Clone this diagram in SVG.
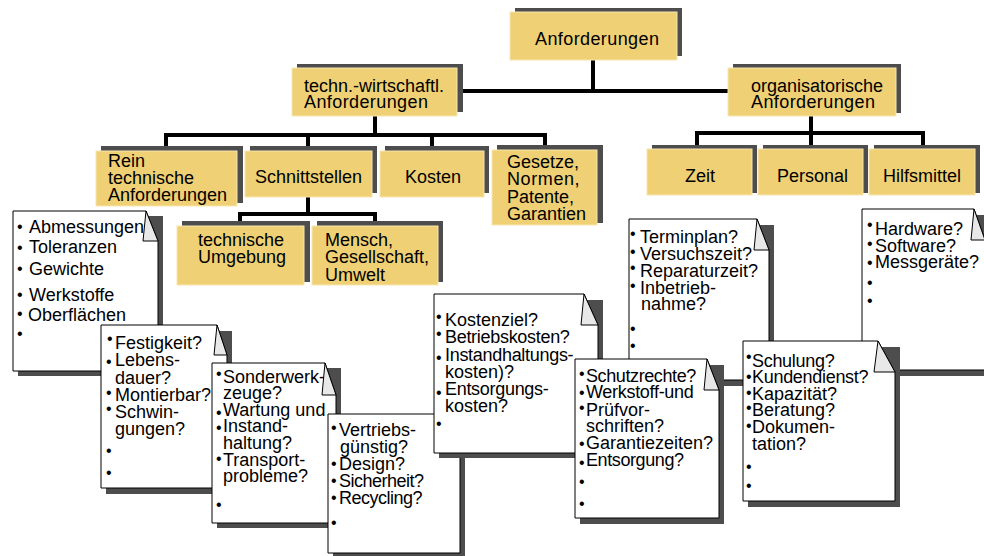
<svg xmlns="http://www.w3.org/2000/svg" width="984" height="556" viewBox="0 0 984 556">
<style>
text{font-family:"Liberation Sans",Arial,sans-serif;font-size:18px;fill:#000}
.bx{fill:#EFD075;stroke:#F7E6B0;stroke-width:1}
.sh{fill:#4d4d4d}
.cn{fill:none;stroke:#000;stroke-width:4;stroke-linejoin:miter}
.pg{fill:#fff;stroke:#000;stroke-width:1}
.fd{fill:#e8e8e8;stroke:#000;stroke-width:1}
.b{font-size:16px}
</style>
<rect width="984" height="556" fill="#fff"/>
<g id="connectors">
<path class="cn" d="M593,60 V91 M457,91 H728"/>
<path class="cn" d="M375,116 V135 M166,150 V135 H545 V150 M308,135 V150 M432,135 V150"/>
<path class="cn" d="M811,116 V133 M697,149 V133 H923 V149 M811,133 V149"/>
<path class="cn" d="M308,197 V214 M240,226 V214 H375 V226"/>
</g>
<g id="n-root"><rect class="sh" x="515" y="8" width="167" height="48"/><rect class="bx" x="510" y="12" width="167" height="48"/><text x="535" y="45" letter-spacing="0.4">Anforderungen</text></g>
<g id="n-tech"><rect class="sh" x="297" y="64" width="166" height="48"/><rect class="bx" x="292" y="68" width="165" height="48"/><text><tspan x="304" y="92">techn.-wirtschaftl.</tspan><tspan x="304" y="108" letter-spacing="0.4">Anforderungen</tspan></text></g>
<g id="n-org"><rect class="sh" x="733" y="64" width="168" height="49"/><rect class="bx" x="728" y="68" width="168" height="48"/><text><tspan x="751" y="92">organisatorische</tspan><tspan x="751" y="108" letter-spacing="0.4">Anforderungen</tspan></text></g>
<g id="n-rein"><rect class="sh" x="101" y="146" width="142" height="57"/><rect class="bx" x="96" y="151" width="141" height="55"/><text><tspan x="108" y="167">Rein</tspan><tspan x="108" y="184">technische</tspan><tspan x="108" y="201">Anforderungen</tspan></text></g>
<g id="n-schnitt"><rect class="sh" x="250" y="146" width="127" height="47"/><rect class="bx" x="245" y="151" width="127" height="46"/><text x="255" y="183">Schnittstellen</text></g>
<g id="n-kosten"><rect class="sh" x="385" y="146" width="104" height="47"/><rect class="bx" x="380" y="151" width="104" height="46"/><text x="405" y="183">Kosten</text></g>
<g id="n-gesetze"><rect class="sh" x="497" y="145" width="106" height="78"/><rect class="bx" x="492" y="150" width="105" height="75"/><text><tspan x="507" y="168">Gesetze,</tspan><tspan x="507" y="185" letter-spacing="0.6">Normen,</tspan><tspan x="507" y="203">Patente,</tspan><tspan x="507" y="220">Garantien</tspan></text></g>
<g id="n-zeit"><rect class="sh" x="652" y="145" width="105" height="48"/><rect class="bx" x="647" y="149" width="105" height="46"/><text x="685" y="182">Zeit</text></g>
<g id="n-personal"><rect class="sh" x="763" y="145" width="105" height="48"/><rect class="bx" x="758" y="149" width="105" height="46"/><text x="777" y="182">Personal</text></g>
<g id="n-hilfs"><rect class="sh" x="874" y="145" width="106" height="48"/><rect class="bx" x="869" y="149" width="106" height="46"/><text x="883" y="182">Hilfsmittel</text></g>
<g id="n-techumg"><rect class="sh" x="182" y="221" width="128" height="61"/><rect class="bx" x="177" y="226" width="127" height="59"/><text><tspan x="198" y="246">technische</tspan><tspan x="198" y="263">Umgebung</tspan></text></g>
<g id="n-mensch"><rect class="sh" x="317" y="221" width="126" height="61"/><rect class="bx" x="312" y="226" width="126" height="59"/><text><tspan x="325" y="246">Mensch,</tspan><tspan x="325" y="263">Gesellschaft,</tspan><tspan x="325" y="281">Umwelt</tspan></text></g>

<g id="note-hardware">
<rect class="sh" x="867" y="215" width="123" height="161"/>
<path class="pg" d="M862,209 H974 L985,240 V370 H862 Z"/>
<text><tspan class="b" x="867" y="230">•</tspan><tspan x="875" y="235">Hardware?</tspan><tspan class="b" x="867" y="249">•</tspan><tspan x="875" y="252">Software?</tspan><tspan class="b" x="867" y="268">•</tspan><tspan x="875" y="268">Messgeräte?</tspan><tspan class="b" x="867" y="288">•</tspan><tspan class="b" x="867" y="306">•</tspan></text>
<path class="fd" d="M974,209 L971,240 L985,240 Z"/>
</g>
<g id="note-terminplan">
<rect class="sh" x="634" y="225" width="140" height="161"/>
<path class="pg" d="M629,219 H757 L769,250 V380 H629 Z"/>
<text><tspan class="b" x="630" y="239">•</tspan><tspan x="640" y="243">Terminplan?</tspan><tspan class="b" x="630" y="257">•</tspan><tspan x="640" y="260">Versuchszeit?</tspan><tspan class="b" x="630" y="273">•</tspan><tspan x="640" y="277">Reparaturzeit?</tspan><tspan class="b" x="630" y="291">•</tspan><tspan x="640" y="294">Inbetrieb-</tspan><tspan x="641" y="310">nahme?</tspan><tspan class="b" x="630" y="334">•</tspan><tspan class="b" x="630" y="351">•</tspan></text>
<path class="fd" d="M757,219 L754,250 L769,250 Z"/>
</g>
<g id="note-abmessungen">
<rect class="sh" x="18" y="216" width="145" height="160"/>
<path class="pg" d="M13,211 H146 L158,241 V371 H13 Z"/>
<path class="fd" d="M146,211 L143,241 L158,241 Z"/>
<text><tspan class="b" x="17" y="232">•</tspan><tspan x="29" y="233">Abmessungen</tspan><tspan class="b" x="17" y="253">•</tspan><tspan x="29" y="253">Toleranzen</tspan><tspan class="b" x="17" y="274">•</tspan><tspan x="29" y="275">Gewichte</tspan><tspan class="b" x="17" y="300">•</tspan><tspan x="29" y="301">Werkstoffe</tspan><tspan class="b" x="17" y="319">•</tspan><tspan x="28" y="321">Oberflächen</tspan><tspan class="b" x="17" y="339">•</tspan></text>
</g>
<g id="note-festigkeit">
<rect class="sh" x="106" y="331" width="126" height="163"/>
<path class="pg" d="M101,325 H217 L227,355 V488 H101 Z"/>
<path class="fd" d="M217,325 L214,355 L227,355 Z"/>
<text><tspan class="b" x="107" y="344">•</tspan><tspan x="115" y="349">Festigkeit?</tspan><tspan class="b" x="106" y="367">•</tspan><tspan x="115" y="366">Lebens-</tspan><tspan x="115" y="384">dauer?</tspan><tspan class="b" x="106" y="398">•</tspan><tspan x="115" y="401">Montierbar?</tspan><tspan class="b" x="106" y="414">•</tspan><tspan x="115" y="418">Schwin-</tspan><tspan x="115" y="435">gungen?</tspan><tspan class="b" x="106" y="456">•</tspan><tspan class="b" x="106" y="478">•</tspan></text>
</g>
<g id="note-sonderwerk">
<rect class="sh" x="217" y="368" width="124" height="160"/>
<path class="pg" d="M212,363 H325 L336,395 V523 H212 Z"/>
<text><tspan class="b" x="216" y="379">•</tspan><tspan x="223" y="383">Sonderwerk-</tspan><tspan x="223" y="399">zeuge?</tspan><tspan class="b" x="216" y="418">•</tspan><tspan x="223" y="416">Wartung und</tspan><tspan class="b" x="216" y="433">•</tspan><tspan x="223" y="432">Instand-</tspan><tspan x="223" y="449">haltung?</tspan><tspan class="b" x="216" y="464">•</tspan><tspan x="223" y="466">Transport-</tspan><tspan x="223" y="482">probleme?</tspan><tspan class="b" x="216" y="510">•</tspan></text>
<path class="fd" d="M325,363 L322,395 L336,395 Z"/>
</g>
<g id="note-vertriebs">
<rect class="sh" x="333" y="420" width="132" height="139"/>
<path class="pg" d="M328,414 H448 L460,444 V553 H328 Z"/>
<text><tspan class="b" x="331" y="433">•</tspan><tspan x="339" y="436">Vertriebs-</tspan><tspan x="340" y="453">günstig?</tspan><tspan class="b" x="331" y="469">•</tspan><tspan x="339" y="470">Design?</tspan><tspan class="b" x="331" y="486">•</tspan><tspan x="339" y="487" letter-spacing="-0.5">Sicherheit?</tspan><tspan class="b" x="331" y="503">•</tspan><tspan x="339" y="504" letter-spacing="-0.5">Recycling?</tspan><tspan class="b" x="331" y="528">•</tspan></text>
</g>
<g id="note-kostenziel">
<rect class="sh" x="439" y="300" width="164" height="158"/>
<path class="pg" d="M434,294 H584 L598,325 V453 H434 Z"/>
<text><tspan class="b" x="436" y="322">•</tspan><tspan x="445" y="326">Kostenziel?</tspan><tspan class="b" x="436" y="339">•</tspan><tspan x="445" y="343" letter-spacing="-0.3">Betriebskosten?</tspan><tspan class="b" x="436" y="363">•</tspan><tspan x="445" y="361" letter-spacing="-0.3">Instandhaltungs-</tspan><tspan x="445" y="378">kosten)?</tspan><tspan class="b" x="436" y="398">•</tspan><tspan x="445" y="395" letter-spacing="-0.3">Entsorgungs-</tspan><tspan x="445" y="412">kosten?</tspan><tspan class="b" x="436" y="429">•</tspan></text>
<path class="fd" d="M584,294 L581,325 L598,325 Z"/>
</g>
<g id="note-schutzrechte">
<rect class="sh" x="580" y="365" width="144" height="159"/>
<path class="pg" d="M575,359 H707 L719,390 V518 H575 Z"/>
<text><tspan class="b" x="579" y="379">•</tspan><tspan x="586" y="382" letter-spacing="-0.4">Schutzrechte?</tspan><tspan class="b" x="579" y="398">•</tspan><tspan x="586" y="398" letter-spacing="-0.3">Werkstoff-und</tspan><tspan class="b" x="579" y="413">•</tspan><tspan x="586" y="416">Prüfvor-</tspan><tspan x="586" y="432">schriften?</tspan><tspan class="b" x="579" y="449">•</tspan><tspan x="586" y="449">Garantiezeiten?</tspan><tspan class="b" x="579" y="468">•</tspan><tspan x="586" y="466" letter-spacing="-0.4">Entsorgung?</tspan><tspan class="b" x="579" y="487">•</tspan><tspan class="b" x="579" y="509">•</tspan></text>
<path class="fd" d="M707,359 L704,390 L719,390 Z"/>
</g>
<g id="note-schulung">
<rect class="sh" x="748" y="347" width="152" height="160"/>
<path class="pg" d="M743,341 H878 L895,372 V501 H743 Z"/>
<text><tspan class="b" x="746" y="362">•</tspan><tspan x="752" y="367" letter-spacing="-0.3">Schulung?</tspan><tspan class="b" x="746" y="382">•</tspan><tspan x="752" y="383" letter-spacing="-0.3">Kundendienst?</tspan><tspan class="b" x="746" y="398">•</tspan><tspan x="752" y="400">Kapazität?</tspan><tspan class="b" x="746" y="413">•</tspan><tspan x="752" y="416">Beratung?</tspan><tspan class="b" x="746" y="431">•</tspan><tspan x="752" y="433">Dokumen-</tspan><tspan x="752" y="450">tation?</tspan><tspan class="b" x="746" y="472">•</tspan><tspan class="b" x="746" y="491">•</tspan></text>
<path class="fd" d="M878,341 L874,372 L895,372 Z"/>
</g>
</svg>
